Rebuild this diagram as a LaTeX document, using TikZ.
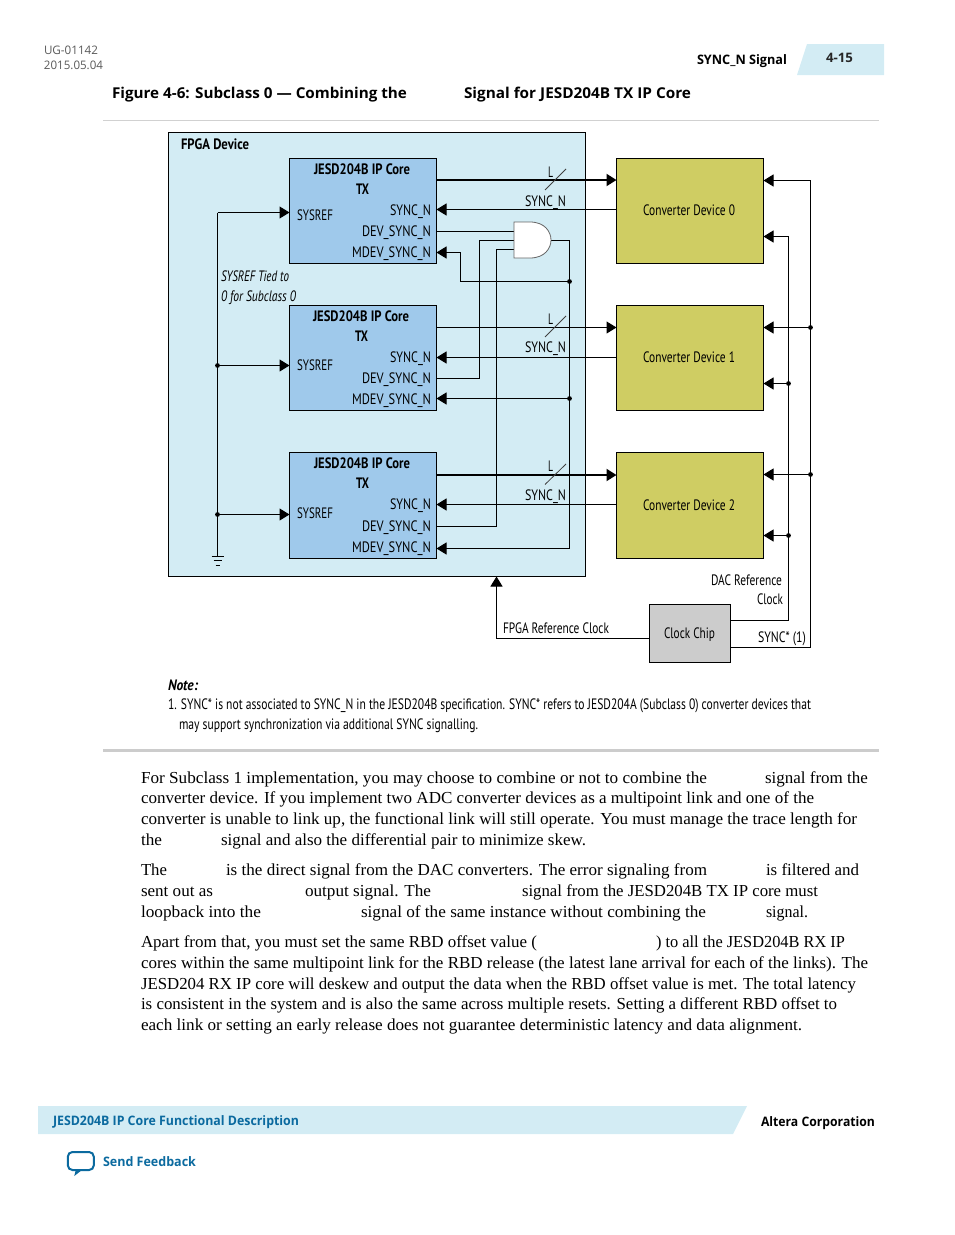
\documentclass[tikz,border=0pt]{standalone}
\usepackage{fontspec}
\usepackage{graphicx}
\usetikzlibrary{arrows.meta,calc}
\setmainfont{Liberation Serif}
\newfontfamily\lb{PT Sans}
\newfontfamily\hd{Open Sans}
\definecolor{pale}{HTML}{D3ECF4}
\definecolor{coreblue}{HTML}{9FC9EB}
\definecolor{conv}{HTML}{CFCD63}
\definecolor{chip}{HTML}{CCCCCC}
\definecolor{linkblue}{HTML}{0B6A9F}
\newlength\pxu \setlength\pxu{0.75pt}
\newcounter{tn}
\newcommand\lab[5][]{\stepcounter{tn}\node[txt,#1,name=t\arabic{tn}] at (#2,#3+5){\resizebox{#4\pxu}{\height}{#5}};}
\tikzset{
 txt/.style={anchor=base west,inner sep=0pt,outer sep=0pt,font=\lb\fontsize{11.3}{13}\selectfont},
 body/.style={font=\rmfamily\fontsize{12.6}{15}\selectfont},
 bb/.style={font=\lb\bfseries\fontsize{11.3}{13}\selectfont},
 ital/.style={font=\lb\itshape\fontsize{11.3}{13}\selectfont},
 head/.style={font=\hd\fontsize{8.8}{10}\selectfont},
 headb/.style={font=\hd\bfseries\fontsize{9.8}{11}\selectfont},
 titleb/.style={font=\hd\bfseries\fontsize{11.2}{13}\selectfont},
 boxn/.style={draw=black,line width=0.75pt,inner sep=0pt,outer sep=0pt},
 corebox/.style={boxn,fill=coreblue,minimum width=110.25pt,minimum height=78.75pt},
 convbox/.style={boxn,fill=conv,minimum width=110.25pt,minimum height=78.75pt},
 wire/.style={line width=0.75pt,black},
 bus/.style={line width=1.5pt,black},
 arr/.style={wire,-{Triangle[length=7.5pt,width=9pt]}},
 busarr/.style={bus,-{Triangle[length=7.5pt,width=9pt]}},
 dotn/.style={circle,fill=black,inner sep=0pt,minimum size=3.6pt},
 slash/.style={line width=0.6pt,black!75},
}
\begin{document}
\begin{tikzpicture}[x=0.75pt,y=-0.75pt]
\useasboundingbox (0,0) rectangle (954,1235);
% page furniture
\lab[head,text=black!65]{44}{49}{54}{UG-01142}
\lab[head,text=black!65]{44}{64}{59}{2015.05.04}
\lab[titleb]{112}{93}{295}{Figure 4-6: Subclass 0 — Combining the}
\lab[titleb]{464}{93}{227}{Signal for JESD204B TX IP Core}
\lab[headb]{697}{59}{90}{SYNC\_N Signal}
\fill[pale] (807,44) -- (884,44) -- (884,75) -- (797,75) -- cycle;
\lab[headb,text=black!85]{826}{57.5}{27}{4-15}
\draw[black!18,line width=0.75pt] (103,120.5) -- (879,120.5);
\draw[black!20,line width=2.25pt] (103,750.5) -- (879,750.5);
% FPGA
\node[boxn,fill=pale,minimum width=312.75pt,minimum height=333pt] (fpga) at (377,354.5) {};
\node[corebox] (core0) at (363,211) {};
\node[corebox] (core1) at (363,358) {};
\node[corebox,minimum height=79.5pt] (core2) at (363,505.5) {};
\node[convbox] (conv0) at (690,211) {};
\node[convbox] (conv1) at (690,358) {};
\node[convbox,minimum height=79.5pt] (conv2) at (690,505.5) {};
\node[boxn,fill=chip,minimum width=60.75pt,minimum height=43.5pt] (clk) at (690,633.5) {};
% AND gate
\coordinate (ga) at (514,222);
\coordinate (gb) at (514,258);
\coordinate (gin0) at (514,231.5);
\coordinate (gin1) at (514,240.5);
\coordinate (gin2) at (514,249.5);
\coordinate (gout) at (551,240.5);
\coordinate (jout) at (569.5,240.5);
\coordinate (jm0) at (569.5,281.5);
\coordinate (jm1) at (569.5,398.5);
\coordinate (jm2) at (569.5,548.5);
\coordinate (b0) at (460.5,281.5);
\coordinate (b0t) at (460.5,252.5);
\coordinate (v1) at (479.5,378.5);
\coordinate (v1t) at (479.5,240.5);
\coordinate (v2) at (496.5,526.5);
\coordinate (v2t) at (496.5,249.5);
% data links
\draw[busarr] (436.5,180) coordinate (l0) -- (l0 -| conv0.west);
\draw[arr] (436.5,327.5) coordinate (l1) -- (l1 -| conv1.west);
\draw[busarr] (436.5,475) coordinate (l2) -- (l2 -| conv2.west);
\draw[arr] (conv0.west |- 0,209.5) coordinate (s0) -- (s0 -| core0.east);
\draw[arr] (conv1.west |- 0,357.5) coordinate (s1) -- (s1 -| core1.east);
\draw[arr] (conv2.west |- 0,504.5) coordinate (s2) -- (s2 -| core2.east);
% dev sync
\draw[wire] (gin0 -| core0.east) -- (gin0);
\draw[wire] (v1 -| core1.east) -- (v1) -- (v1t) -- (gin1);
\draw[wire] (v2 -| core2.east) -- (v2) -- (v2t) -- (gin2);
% mdev sync
\draw[wire] (gout) -- (jout) -- (jm2);
\draw[arr] (jm0) -- (b0) -- (b0t) -- (b0t -| core0.east);
\draw[arr] (jm1) -- (jm1 -| core1.east);
\draw[arr] (jm2) -- (jm2 -| core2.east);
\node[dotn] (d1) at (jm0) {};
\node[dotn] (d2) at (jm1) {};
% gate
\draw[black!60,fill=white,line width=0.6pt] (ga) -- (530,222) .. controls (545,222) and (551,232) .. (551,240) .. controls (551,248) and (545,258) .. (530,258) -- (gb) -- cycle;
% slashes
\draw[slash] (545,190) -- (566,169);
\draw[slash] (545,337) -- (566,316);
\draw[slash] (545,484.5) -- (566,464);
% sysref
\coordinate (sy0) at (217.5,212.5);
\coordinate (sy1) at (217.5,365.5);
\coordinate (sy2) at (217.5,514.5);
\coordinate (gnd) at (217.5,556.5);
\draw[wire] (sy0) -- (gnd);
\draw[arr] (sy0) -- (sy0 -| core0.west);
\draw[arr] (sy1) -- (sy1 -| core1.west);
\draw[arr] (sy2) -- (sy2 -| core2.west);
\node[dotn] (d3) at (sy1) {};
\node[dotn] (d4) at (sy2) {};
\draw[line width=0.6pt] ($(gnd)+(-6,0)$) -- ($(gnd)+(6,0)$);
\draw[line width=0.6pt] ($(gnd)+(-4,4)$) -- ($(gnd)+(4,4)$);
\draw[line width=0.6pt] ($(gnd)+(-2,9)$) -- ($(gnd)+(2,9)$);
% clocks
\coordinate (r1) at (788.5,620.5);
\coordinate (r1b) at (788.5,383.5);
\coordinate (r1c) at (788.5,535.5);
\coordinate (r1t) at (788.5,236.5);
\coordinate (r2) at (810.5,647.5);
\coordinate (r2b) at (810.5,327.5);
\coordinate (r2c) at (810.5,474.5);
\coordinate (r2t) at (810.5,180.5);
\coordinate (fr) at (496.5,638.5);
\draw[wire] (r1 -| clk.east) -- (r1);
\draw[arr] (r1) -- (r1t) -- (r1t -| conv0.east);
\draw[arr] (r1b) -- (r1b -| conv1.east);
\draw[arr] (r1c) -- (r1c -| conv2.east);
\draw[wire] (r2 -| clk.east) -- (r2);
\draw[arr] (r2) -- (r2t) -- (r2t -| conv0.east);
\draw[arr] (r2b) -- (r2b -| conv1.east);
\draw[arr] (r2c) -- (r2c -| conv2.east);
\node[dotn] (d5) at (r1b) {};
\node[dotn] (d6) at (r1c) {};
\node[dotn] (d7) at (r2b) {};
\node[dotn] (d8) at (r2c) {};
\draw[arr] (fr -| clk.west) -- (fr) -- (fr |- fpga.south);
% diagram labels
\lab[bb]{181}{144}{68}{FPGA Device}
\lab[bb]{314}{169}{96}{JESD204B IP Core}
\lab[bb]{356}{189}{13}{TX}
\lab[bb]{313}{316}{96}{JESD204B IP Core}
\lab[bb]{355}{336}{13}{TX}
\lab[bb]{314}{463}{96}{JESD204B IP Core}
\lab[bb]{356}{483}{13}{TX}
\lab{297}{215}{36}{SYSREF}
\lab{297}{365}{36}{SYSREF}
\lab{297}{513}{36}{SYSREF}
\lab{390}{210}{41}{SYNC\_N}
\lab{362}{231}{69}{DEV\_SYNC\_N}
\lab{352}{252}{79}{MDEV\_SYNC\_N}
\lab{390}{357}{41}{SYNC\_N}
\lab{362}{378}{69}{DEV\_SYNC\_N}
\lab{352}{399}{79}{MDEV\_SYNC\_N}
\lab{390}{504}{41}{SYNC\_N}
\lab{362}{526}{69}{DEV\_SYNC\_N}
\lab{352}{547}{79}{MDEV\_SYNC\_N}
\lab{548}{172}{5}{L}
\lab{548}{319}{5}{L}
\lab{548}{466}{5}{L}
\lab{525}{201}{41}{SYNC\_N}
\lab{525}{347}{41}{SYNC\_N}
\lab{525}{495}{41}{SYNC\_N}
\lab[ital]{221}{276}{68}{SYSREF Tied to}
\lab[ital]{221}{296}{75}{0 for Subclass 0}
\lab{643}{210}{92}{Converter Device 0}
\lab{643}{357}{92}{Converter Device 1}
\lab{643}{505}{92}{Converter Device 2}
\lab{711}{580}{71}{DAC Reference}
\lab{757}{599}{26}{Clock}
\lab{664}{633}{51}{Clock Chip}
\lab{758}{637}{48}{SYNC* (1)}
\lab{503}{628}{106}{FPGA Reference Clock}
\lab[font=\lb\bfseries\itshape\fontsize{11.3}{13}\selectfont]{168}{685}{30}{Note:}
\lab{168}{704}{643}{1. SYNC* is not associated to SYNC\_N in the JESD204B specification. SYNC* refers to JESD204A (Subclass 0) converter devices that}
\lab{179}{724}{299}{may support synchronization via additional SYNC signalling.}
% body text
\lab[body]{141}{778}{566}{For Subclass 1 implementation, you may choose to combine or not to combine the}
\lab[body]{765}{778}{103}{signal from the}
\lab[body]{141}{798.5}{673}{converter device. If you implement two ADC converter devices as a multipoint link and one of the}
\lab[body]{141}{819.5}{716}{converter is unable to link up, the functional link will still operate. You must manage the trace length for}
\lab[body]{141}{840}{21}{the}
\lab[body]{221}{840}{365}{signal and also the differential pair to minimize skew.}
\lab[body]{141}{870}{26}{The}
\lab[body]{226}{870}{481}{is the direct signal from the DAC converters. The error signaling from}
\lab[body]{766}{870}{93}{is filtered and}
\lab[body]{141}{891}{72}{sent out as}
\lab[body]{305}{891}{126}{output signal. The}
\lab[body]{522}{891}{296}{signal from the JESD204B TX IP core must}
\lab[body]{141}{912}{120}{loopback into the}
\lab[body]{361}{912}{345}{signal of the same instance without combining the}
\lab[body]{766}{912}{42}{signal.}
\lab[body]{141}{942}{396}{Apart from that, you must set the same RBD offset value (}
\lab[body]{656}{942}{189}{) to all the JESD204B RX IP}
\lab[body]{141}{963}{727}{cores within the same multipoint link for the RBD release (the latest lane arrival for each of the links). The}
\lab[body]{141}{984}{715}{JESD204 RX IP core will deskew and output the data when the RBD offset value is met. The total latency}
\lab[body]{141}{1004.5}{696}{is consistent in the system and is also the same across multiple resets. Setting a different RBD offset to}
\lab[body]{141}{1025}{661}{each link or setting an early release does not guarantee deterministic latency and data alignment.}
% footer
\fill[pale] (38,1106) -- (747,1106) -- (733,1134) -- (38,1134) -- cycle;
\lab[headb,text=linkblue]{53}{1120}{246}{JESD204B IP Core Functional Description}
\lab[headb]{761}{1121}{114}{Altera Corporation}
\lab[headb,text=linkblue]{103}{1161}{93}{Send Feedback}
\draw[linkblue,line width=1.5pt,fill=white,rounded corners=3.5pt] (67.8,1152) rectangle (93.8,1170);
\fill[linkblue] (73.5,1170) -- (82,1170) -- (74.3,1176) -- (75.5,1171) -- cycle;
\end{tikzpicture}
\end{document}
